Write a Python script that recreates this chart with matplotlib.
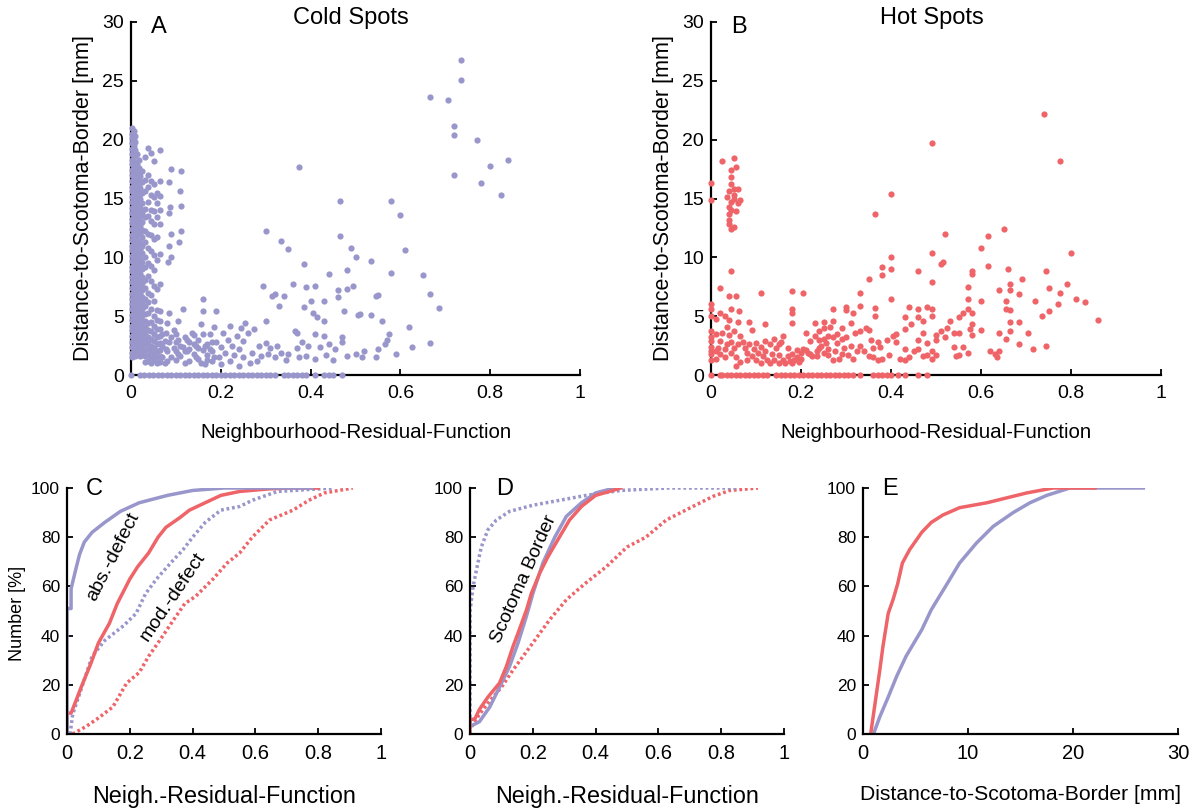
import numpy as np
import matplotlib
matplotlib.use("Agg")
import matplotlib.pyplot as plt

plt.rcParams['font.family'] = ['Liberation Sans', 'DejaVu Sans']

BLUE = '#9896cb'
RED = '#ee6468'

# ---------------- panel A: cold spots (x = NRF, y = distance in mm) ----------------
# dense strip next to x = 0, read column by column
cold_col_x = [0.003, 0.0065, 0.010, 0.0135, 0.017, 0.0205, 0.024, 0.031, 0.038, 0.045, 0.052,
              0.058, 0.065]
cold_col_y = [
    [1.5, 1.9, 2.4, 2.8, 3.3, 3.8, 4.2, 4.7, 5.1, 5.6, 6.0, 6.5, 6.9, 7.4, 7.9, 8.3, 8.8, 9.2, 9.7, 10.1,
     10.6, 11.0, 11.5, 11.9, 12.4, 12.9, 13.3, 13.8, 14.2, 14.7, 15.1, 15.6, 16.0, 16.5, 17.0, 17.4,
     17.9, 18.3, 18.8, 19.2, 19.7, 20.1, 20.5, 21.0],
    [1.7, 2.2, 2.6, 3.1, 3.5, 4.0, 4.5, 4.9, 5.4, 5.8, 6.3, 6.7, 7.2, 7.6, 8.1, 8.6, 9.0, 9.5, 9.9,
     10.4, 10.8, 11.3, 11.7, 12.2, 12.6, 13.1, 13.6, 14.0, 14.5, 14.9, 15.4, 15.8, 16.3, 16.8, 17.2,
     17.7, 18.1, 18.6, 19.0, 19.5, 20.0, 20.7],
    [1.6, 2.0, 2.5, 2.9, 3.4, 3.9, 4.3, 4.8, 5.2, 5.7, 6.1, 6.6, 7.1, 7.5, 8.0, 8.4, 8.9, 9.3, 9.8, 10.3,
     10.7, 11.2, 11.6, 12.1, 12.6, 13.0, 13.5, 13.9, 14.4, 14.9, 15.3, 15.8, 16.2, 16.7, 17.2, 17.6,
     18.1, 18.6, 19.1, 19.8, 20.3],
    [1.8, 2.3, 2.7, 3.2, 3.6, 4.1, 4.6, 5.0, 5.5, 5.9, 6.4, 6.9, 7.3, 7.8, 8.2, 8.7, 9.2, 9.6, 10.1,
     10.5, 11.0, 11.4, 11.9, 12.3, 12.8, 13.2, 13.7, 14.2, 14.6, 15.1, 15.5, 16.0, 16.4, 16.9, 17.4,
     17.9, 18.8],
    [1.7, 2.1, 2.6, 3.0, 3.5, 4.0, 4.4, 4.9, 5.3, 5.8, 6.3, 6.7, 7.2, 7.7, 8.1, 8.6, 9.1, 9.5, 10.0, 10.5,
     10.9, 11.4, 11.9, 12.4, 12.8, 13.3, 13.8, 14.3, 14.8, 15.2, 15.7, 16.2, 16.6, 17.1, 17.6, 18.3],
    [1.6, 2.0, 2.5, 3.0, 3.4, 3.9, 4.3, 4.8, 5.3, 5.8, 6.4, 6.9, 7.5, 8.0, 8.6, 9.3, 9.9, 10.7, 11.3,
     12.0, 12.7, 13.5, 14.2, 15.0, 15.9, 16.9],
    [1.8, 2.3, 2.8, 3.2, 3.7, 4.2, 4.7, 5.1, 5.6, 6.1, 6.6, 7.2, 7.8, 8.3, 9.0, 9.6, 10.4, 11.0, 11.7,
     12.3, 13.0, 13.8, 14.6, 15.5, 16.4, 17.3],
    [1.1, 1.6, 2.1, 2.6, 3.1, 3.6, 4.1, 4.6, 5.2, 5.9, 6.5, 7.4, 8.1, 9.2, 10.0, 11.3, 12.2, 13.4, 14.1,
     15.6, 16.6, 18.5],
    [1.2, 1.7, 2.2, 2.7, 3.2, 3.8, 4.4, 5.3, 6.2, 7.0, 8.4, 9.5, 10.8, 12.0, 13.5, 14.7, 16.0, 17.0, 19.3],
    [1.0, 1.5, 2.0, 2.5, 3.1, 3.7, 4.5, 5.6, 6.8, 8.0, 9.3, 10.5, 11.9, 13.1, 14.0, 15.3, 16.5, 18.9],
    [1.3, 1.8, 2.3, 2.9, 3.5, 4.2, 5.0, 6.3, 7.6, 8.9, 10.2, 11.6, 12.8, 13.9, 15.1, 16.2, 18.2],
    [1.0, 1.5, 2.0, 2.6, 3.2, 3.9, 4.7, 5.5, 7.3, 9.8, 11.7, 13.4, 14.6, 15.5],
    [1.1, 1.6, 2.1, 2.7, 3.3, 3.9, 4.6, 5.4, 7.7, 10.3, 12.8, 14.0, 15.2, 16.5, 19.1],
]

cold_pts = [
    (0.07, 1.5), (0.07, 2.5), (0.07, 3.5), (0.075, 1.0), (0.075, 2.9), (0.078, 2.2), (0.078, 3.6),
    (0.08, 1.2), (0.08, 2.0), (0.08, 4.4), (0.085, 2.8), (0.085, 5.3), (0.082, 9.6), (0.085, 11.0),
    (0.085, 13.8), (0.085, 16.4), (0.088, 17.5), (0.087, 14.3), (0.09, 12.0), (0.09, 10.0),
    (0.09, 1.5), (0.09, 3.2), (0.095, 2.3), (0.095, 3.8), (0.1, 1.3), (0.1, 2.0), (0.1, 2.8),
    (0.1, 3.5), (0.105, 1.8), (0.105, 3.0), (0.105, 4.6), (0.108, 11.3), (0.11, 15.6), (0.112, 17.3),
    (0.112, 14.4), (0.112, 12.2), (0.115, 5.6), (0.11, 1.6), (0.11, 2.5), (0.115, 2.4), (0.12, 3.2),
    (0.12, 1.0), (0.12, 2.0), (0.125, 2.0), (0.125, 3.0), (0.13, 1.2), (0.13, 2.2), (0.13, 2.8),
    (0.135, 3.6), (0.14, 1.8), (0.14, 2.6), (0.14, 3.4), (0.145, 1.5), (0.145, 2.5), (0.15, 1.4),
    (0.15, 2.3), (0.15, 3.0), (0.155, 1.0), (0.155, 4.3), (0.16, 6.5), (0.16, 5.4), (0.16, 2.1),
    (0.16, 3.5), (0.165, 0.9), (0.165, 2.5), (0.17, 1.3), (0.17, 1.7), (0.17, 2.6), (0.175, 2.2),
    (0.175, 3.5), (0.18, 1.2), (0.18, 2.0), (0.18, 2.8), (0.185, 1.5), (0.185, 4.1), (0.19, 5.4),
    (0.19, 2.8), (0.195, 1.5), (0.2, 0.9), (0.2, 2.4), (0.205, 3.6), (0.21, 1.9), (0.215, 3.0),
    (0.22, 1.2), (0.22, 4.2), (0.225, 2.5), (0.23, 1.7), (0.235, 3.3), (0.24, 0.8), (0.24, 2.2),
    (0.245, 4.0), (0.25, 1.5), (0.25, 2.9), (0.255, 4.4), (0.26, 3.6), (0.265, 1.0), (0.27, 1.9),
    (0.275, 3.9), (0.28, 1.2), (0.285, 2.5), (0.29, 1.6), (0.295, 7.6), (0.3, 12.2), (0.3, 4.6),
    (0.3, 2.7), (0.305, 1.8), (0.31, 2.3), (0.315, 6.7), (0.32, 6.9), (0.32, 1.5), (0.325, 2.5),
    (0.33, 5.9), (0.333, 11.4), (0.335, 1.9), (0.34, 6.7), (0.345, 1.3), (0.35, 10.7), (0.35, 1.8),
    (0.36, 7.7), (0.365, 3.7), (0.37, 3.6), (0.37, 2.3), (0.375, 17.7), (0.375, 1.5), (0.38, 2.8),
    (0.385, 5.8), (0.385, 9.4), (0.39, 7.5), (0.39, 1.6), (0.395, 2.5), (0.4, 6.3), (0.405, 5.3),
    (0.41, 7.6), (0.41, 1.4), (0.41, 3.5), (0.415, 4.9), (0.42, 2.4), (0.43, 6.3), (0.43, 4.6),
    (0.43, 3.3), (0.435, 1.7), (0.44, 8.6), (0.44, 2.6), (0.45, 1.3), (0.455, 2.2), (0.46, 7.2),
    (0.46, 6.6), (0.465, 14.8), (0.465, 11.8), (0.47, 3.2), (0.47, 2.8), (0.475, 5.4), (0.48, 7.3),
    (0.48, 8.9), (0.48, 1.6), (0.49, 10.8), (0.495, 7.6), (0.5, 1.8), (0.5, 10.0), (0.505, 5.1),
    (0.51, 5.2), (0.515, 1.5), (0.52, 2.0), (0.535, 9.7), (0.535, 5.1), (0.545, 6.7), (0.55, 6.8),
    (0.545, 1.5), (0.55, 2.2), (0.56, 4.6), (0.565, 2.6), (0.57, 3.0), (0.575, 3.5), (0.58, 8.7),
    (0.58, 14.8), (0.59, 1.8), (0.6, 13.6), (0.61, 10.6), (0.62, 4.1), (0.625, 2.4), (0.65, 8.5),
    (0.665, 23.6), (0.665, 6.9), (0.665, 2.7), (0.685, 5.7), (0.705, 23.4), (0.72, 21.2),
    (0.72, 20.4), (0.72, 17.0), (0.735, 26.8), (0.735, 25.1), (0.77, 20.0), (0.78, 16.3),
    (0.8, 17.8), (0.825, 15.3), (0.84, 18.3),
]

cold_zero_x = [0.0, 0.02, 0.03, 0.04, 0.05, 0.06, 0.07, 0.08, 0.09, 0.10, 0.11, 0.12, 0.13, 0.14,
               0.15, 0.16, 0.17, 0.18, 0.19, 0.20, 0.21, 0.22, 0.23, 0.24, 0.25, 0.26, 0.27, 0.28,
               0.29, 0.30, 0.31, 0.32, 0.34, 0.35, 0.36, 0.37, 0.38, 0.39, 0.41, 0.43, 0.44, 0.45, 0.47]

# ---------------- panel B: hot spots ----------------
hot_pts = [
    (0, 16.3), (0, 14.9), (0, 6.0), (0, 5.6), (0, 5.0), (0, 3.7), (0, 3.2), (0, 2.9), (0, 2.4),
    (0, 2.0), (0, 1.8), (0, 1.3), (0.02, 7.4), (0.025, 18.2),
    (0.05, 18.4), (0.055, 17.7), (0.045, 17.4), (0.045, 16.8), (0.045, 16.2), (0.05, 15.8),
    (0.06, 15.8), (0.04, 15.6), (0.05, 15.3), (0.065, 14.9), (0.045, 14.7), (0.04, 14.3),
    (0.045, 14.0), (0.055, 13.9), (0.04, 13.7), (0.06, 14.6), (0.04, 13.2), (0.04, 12.8),
    (0.05, 12.6), (0.045, 12.4), (0.052, 15.0), (0.035, 15.1),
    (0.045, 8.8), (0.04, 6.7), (0.055, 6.7), (0.063, 5.4), (0.045, 5.6), (0.02, 5.3), (0.01, 4.8),
    (0.03, 5.0), (0.04, 4.7), (0.11, 7.0), (0.18, 7.1), (0.18, 5.6), (0.18, 5.3), (0.18, 4.4),
    (0.205, 7.0), (0.12, 4.3), (0.085, 4.5), (0.09, 3.8),
    (0.33, 7.0), (0.35, 8.2), (0.365, 13.7), (0.38, 9.2), (0.38, 8.5), (0.4, 10.0), (0.4, 9.0),
    (0.4, 6.5), (0.4, 15.4), (0.46, 8.8), (0.49, 19.7), (0.49, 10.4), (0.49, 7.9), (0.51, 9.4),
    (0.515, 9.6), (0.52, 12.0), (0.6, 10.8), (0.615, 11.8), (0.615, 9.3), (0.65, 12.4), (0.66, 9.0),
    (0.74, 22.2), (0.775, 18.2), (0.8, 10.4), (0.58, 8.8), (0.58, 8.6), (0.6, 6.3), (0.64, 7.2),
    (0.655, 6.3), (0.655, 5.6), (0.665, 7.7), (0.665, 7.2), (0.665, 5.5), (0.665, 4.5), (0.665, 3.7),
    (0.685, 6.9), (0.685, 4.5), (0.69, 8.2), (0.72, 6.3), (0.735, 5.0), (0.745, 8.8), (0.75, 7.4),
    (0.75, 5.4), (0.77, 6.0), (0.775, 7.0), (0.79, 7.7), (0.81, 6.5), (0.83, 6.2), (0.86, 4.7),
    (0.745, 2.5), (0.715, 2.2), (0.705, 3.6), (0.685, 2.6), (0.655, 3.1), (0.64, 3.6), (0.64, 2.0),
    (0.63, 1.8), (0.635, 1.5), (0.62, 2.0), (0.6, 3.8), (0.57, 7.5), (0.57, 6.5), (0.57, 5.6),
    (0.58, 5.3), (0.58, 4.3), (0.58, 3.4), (0.575, 3.9), (0.57, 1.9), (0.56, 5.3), (0.55, 4.9),
    (0.55, 3.6), (0.54, 3.6), (0.53, 4.6), (0.525, 4.0), (0.52, 3.2), (0.51, 3.7), (0.5, 3.4),
    (0.5, 3.0), (0.5, 1.7), (0.54, 2.4), (0.545, 1.6), (0.55, 1.7), (0.56, 2.4), (0.49, 5.0),
    (0.49, 5.6), (0.48, 5.8), (0.47, 4.6), (0.46, 4.9), (0.46, 5.6), (0.47, 3.6), (0.46, 3.0),
    (0.44, 5.8), (0.43, 4.9), (0.43, 3.9), (0.445, 4.3), (0.48, 2.7), (0.49, 2.0), (0.48, 1.7),
    (0.49, 1.4), (0.46, 2.2), (0.45, 2.0), (0.44, 1.5), (0.42, 1.4), (0.43, 1.3), (0.41, 2.8),
    (0.405, 3.3), (0.41, 3.5), (0.43, 2.2), (0.47, 1.6),
    (0.33, 5.9), (0.33, 3.7), (0.33, 2.5), (0.34, 2.0), (0.345, 4.0), (0.35, 1.6), (0.355, 3.0),
    (0.36, 2.3), (0.365, 5.7), (0.365, 5.0), (0.37, 2.8), (0.37, 1.3), (0.375, 2.4), (0.38, 1.4),
    (0.39, 3.0), (0.395, 1.7), (0.36, 1.5), (0.35, 3.8),
    (0.21, 3.6), (0.21, 2.1), (0.22, 1.8), (0.22, 2.9), (0.23, 3.3), (0.23, 4.4), (0.235, 1.6),
    (0.24, 2.3), (0.24, 3.7), (0.245, 2.5), (0.25, 4.5), (0.25, 3.1), (0.25, 1.9), (0.255, 2.7),
    (0.26, 2.2), (0.265, 4.1), (0.27, 5.6), (0.27, 4.6), (0.27, 3.2), (0.27, 1.3), (0.28, 3.5),
    (0.28, 2.7), (0.285, 1.4), (0.29, 4.0), (0.29, 3.1), (0.295, 2.3), (0.3, 5.8), (0.3, 5.5),
    (0.3, 3.2), (0.305, 1.7), (0.31, 4.4), (0.31, 2.5), (0.315, 5.3), (0.315, 1.4), (0.32, 3.6),
    (0.325, 2.0), (0.26, 3.3), (0.25, 4.0), (0.24, 3.0), (0.235, 2.0), (0.225, 1.6), (0.215, 1.9),
    (0.26, 1.7), (0.275, 2.0), (0.29, 1.8),
    (0.07, 2.8), (0.075, 2.3), (0.08, 1.9), (0.08, 1.3), (0.085, 2.6), (0.09, 1.6), (0.095, 2.2),
    (0.1, 2.7), (0.1, 1.3), (0.105, 1.9), (0.11, 2.4), (0.11, 1.0), (0.115, 1.6), (0.12, 2.0),
    (0.125, 1.3), (0.13, 2.6), (0.13, 1.0), (0.135, 1.8), (0.14, 1.3), (0.145, 2.3), (0.15, 1.0),
    (0.15, 1.7), (0.155, 2.8), (0.16, 1.3), (0.165, 1.0), (0.17, 1.6), (0.175, 1.2), (0.18, 1.0),
    (0.18, 1.8), (0.185, 1.3), (0.19, 1.5), (0.195, 1.1), (0.2, 1.9), (0.2, 1.4), (0.205, 2.2),
    (0.14, 3.1), (0.16, 3.3), (0.12, 2.9), (0.15, 2.6), (0.17, 2.3), (0.19, 2.1),
    (0.01, 3.5), (0.015, 2.3), (0.02, 1.8), (0.02, 2.9), (0.025, 3.6), (0.03, 2.2), (0.03, 1.5),
    (0.035, 2.6), (0.035, 4.1), (0.04, 3.4), (0.045, 1.9), (0.045, 2.8), (0.05, 3.7), (0.05, 2.3),
    (0.055, 0.8), (0.055, 1.5), (0.06, 2.6), (0.06, 4.5), (0.065, 1.1), (0.065, 3.3), (0.01, 2.0),
    (0.012, 1.4),
]

hot_zero_x = [0.0, 0.02, 0.025, 0.035, 0.045, 0.055, 0.065, 0.075, 0.085, 0.095, 0.105, 0.115,
              0.125, 0.145, 0.155, 0.165, 0.175, 0.185, 0.195, 0.205, 0.215, 0.225, 0.235, 0.245,
              0.255, 0.265, 0.275, 0.285, 0.295, 0.305, 0.315, 0.33, 0.36, 0.37, 0.38, 0.39, 0.4,
              0.415, 0.43, 0.46, 0.48]

# ---------------- panel C: cumulative NRF, absolute vs moderate defect ----------------
c_abs_cold_x = [0, 0, 0.013, 0.013, 0.03, 0.04, 0.055, 0.08, 0.12, 0.17, 0.23, 0.32, 0.40, 0.50, 0.78]
c_abs_cold_y = [0, 51, 51, 59, 68, 73, 78, 82, 86, 90.5, 94, 97, 99, 100, 100]
c_abs_hot_x = [0, 0, 0.013, 0.03, 0.045, 0.077, 0.10, 0.135, 0.16, 0.20, 0.225, 0.26, 0.29,
               0.315, 0.36, 0.39, 0.45, 0.49, 0.55, 0.64, 0.71, 0.80]
c_abs_hot_y = [0, 8.5, 8.5, 14, 19, 29, 37, 45, 53, 63, 68, 73.6, 80, 84, 88, 91, 94.6, 97,
               98.6, 99.6, 100, 100]
c_mod_cold_x = [0.01, 0.018, 0.034, 0.055, 0.08, 0.12, 0.18, 0.22, 0.25, 0.285, 0.33, 0.37,
                0.40, 0.44, 0.49, 0.55, 0.59, 0.67, 0.85]
c_mod_cold_y = [0, 8, 14, 22, 31.6, 38, 44, 49, 57, 63, 69.5, 75, 80, 86, 91, 92.5, 95, 98.6, 100]
c_mod_hot_x = [0.018, 0.06, 0.10, 0.146, 0.19, 0.23, 0.26, 0.295, 0.34, 0.375, 0.41, 0.465,
               0.51, 0.55, 0.59, 0.645, 0.72, 0.77, 0.82, 0.91]
c_mod_hot_y = [0, 3, 6.5, 11, 20.7, 25, 31.6, 38, 46.5, 53, 56, 63, 69.5, 73.6, 80, 87, 91, 95,
               98, 100]

# ---------------- panel D: scotoma border vs rest ----------------
d_rest_cold_x = [0, 0, 0.01, 0.025, 0.036, 0.057, 0.084, 0.126, 0.20, 0.285, 0.37, 0.48, 0.63, 0.85]
d_rest_cold_y = [0, 50, 60, 69.5, 76, 83, 87, 90.5, 93, 95, 97, 99, 100, 100]
d_border_cold_x = [0, 0.03, 0.063, 0.094, 0.126, 0.153, 0.18, 0.20, 0.232, 0.27, 0.307, 0.355,
                   0.40, 0.46]
d_border_cold_y = [3, 5, 11, 19, 27.5, 37, 48, 57, 69.5, 80, 88.5, 94, 98, 100]
d_border_hot_x = [0, 0, 0.015, 0.03, 0.057, 0.094, 0.116, 0.137, 0.153, 0.18, 0.195, 0.222,
                  0.248, 0.28, 0.317, 0.355, 0.40, 0.455, 0.48]
d_border_hot_y = [0, 6, 6, 10, 15, 20.7, 27.5, 35.6, 41, 50.5, 57, 65.4, 72, 79, 87, 92.5, 97,
                  99, 100]
d_rest_hot_x = [0.005, 0.03, 0.06, 0.10, 0.137, 0.20, 0.254, 0.307, 0.365, 0.434, 0.50, 0.56,
                0.625, 0.71, 0.774, 0.827, 0.917]
d_rest_hot_y = [3, 8, 13, 19, 26, 37, 46.5, 54.6, 61, 68, 76, 80, 87, 92.5, 96.6, 99, 100]

# ---------------- panel E: cumulative distance to scotoma border ----------------
e_hot_x = [0.73, 1.2, 1.6, 1.9, 2.4, 2.86, 3.3, 3.75, 4.45, 5.6, 6.5, 7.6, 9.2, 11.8, 13.7, 15.6,
           18.1, 22.1]
e_hot_y = [0, 14, 26, 35.6, 49, 54.6, 61, 69.5, 75, 82, 86, 89, 92, 94, 96, 98, 100, 100]
e_cold_x = [1.0, 1.6, 2.4, 3.2, 4.1, 5.6, 6.5, 8.0, 9.2, 10.8, 12.4, 14.3, 15.9, 17.5, 19.7, 26.7]
e_cold_y = [0, 7, 15, 23.4, 31.6, 42.4, 50.5, 61, 69.5, 77.6, 84.4, 90, 94, 97, 100, 100]

# ------------------------------------------------------------------------------------
W, H = 1196, 811
fig = plt.figure(figsize=(W / 100, H / 100), dpi=100)


def px_axes(left, right, top, bottom):
    return fig.add_axes([left / W, 1 - bottom / H, (right - left) / W, (bottom - top) / H])


def style(ax, xfs, yfs):
    for s in ('top', 'right'):
        ax.spines[s].set_visible(False)
    for s in ('left', 'bottom'):
        ax.spines[s].set_linewidth(1.6)
    ax.tick_params(direction='in', length=4.5, width=1.3)
    ax.tick_params(axis='x', labelsize=xfs, pad=7)
    ax.tick_params(axis='y', labelsize=yfs, pad=5)


def xtick_fmt(v):
    return '%g' % v


axA = px_axes(131, 580, 22, 375)
axB = px_axes(711, 1161, 22, 375)
axC = px_axes(67, 381, 488, 734)
axD = px_axes(470, 784, 488, 734)
axE = px_axes(863, 1178, 488, 734)

# scatter panels
cold_x = [x for x, col in zip(cold_col_x, cold_col_y) for _ in col] + [p[0] for p in cold_pts]
cold_y = [y for col in cold_col_y for y in col] + [p[1] for p in cold_pts]

for ax, xs, ys, zx, col, title, letter in (
        (axA, cold_x, cold_y, cold_zero_x, BLUE, 'Cold Spots', 'A'),
        (axB, [p[0] for p in hot_pts], [p[1] for p in hot_pts], hot_zero_x, RED, 'Hot Spots', 'B')):
    ax.scatter(xs, ys, s=20, color=col, linewidths=0, clip_on=False, zorder=3)
    ax.scatter(zx, [0] * len(zx), s=20, color=col, linewidths=0, clip_on=False, zorder=3)
    ax.set_xlim(0, 1)
    ax.set_ylim(0, 30)
    ax.set_xticks([0, 0.2, 0.4, 0.6, 0.8, 1])
    ax.set_xticklabels([xtick_fmt(v) for v in ax.get_xticks()])
    ax.set_yticks([0, 5, 10, 15, 20, 25, 30])
    style(ax, 14, 14)
    ax.text(0.49, 1.012, title, transform=ax.transAxes, ha='center', va='center', fontsize=17)
    ax.text(0.062, 29.6, letter, ha='center', va='center', fontsize=17)
    ax.text(0.5, -58 / 353, 'Neighbourhood-Residual-Function', transform=ax.transAxes,
            ha='center', va='center', fontsize=14.8)
    ax.text(-47 / 449, 0.5, 'Distance-to-Scotoma-Border [mm]', transform=ax.transAxes,
            ha='center', va='center', rotation=90, fontsize=15.5)

dot = (0, (0.8, 0.8))
lw = 2.5

axC.plot(c_mod_hot_x, c_mod_hot_y, color=RED, lw=lw, ls=dot)
axC.plot(c_mod_cold_x, c_mod_cold_y, color=BLUE, lw=lw, ls=dot)
axC.plot(c_abs_hot_x, c_abs_hot_y, color=RED, lw=lw)
axC.plot(c_abs_cold_x, c_abs_cold_y, color=BLUE, lw=lw)
axC.text(0.146, 72, 'abs.-defect', rotation=63, ha='center', va='center', fontsize=14)
axC.text(0.337, 56, 'mod.-defect', rotation=56, ha='center', va='center', fontsize=14)

axD.plot(d_rest_hot_x, d_rest_hot_y, color=RED, lw=lw, ls=dot)
axD.plot(d_rest_cold_x, d_rest_cold_y, color=BLUE, lw=lw, ls=dot)
axD.plot(d_border_cold_x, d_border_cold_y, color=BLUE, lw=lw)
axD.plot(d_border_hot_x, d_border_hot_y, color=RED, lw=lw)
axD.text(0.172, 63, 'Scotoma Border', rotation=66, ha='center', va='center', fontsize=13.8)

axE.plot(e_cold_x, e_cold_y, color=BLUE, lw=lw)
axE.plot(e_hot_x, e_hot_y, color=RED, lw=lw)

for ax, letter, lx in ((axC, 'C', 0.087), (axD, 'D', 0.11), (axE, 'E', 0.087)):
    ax.set_ylim(0, 100)
    ax.set_yticks([0, 20, 40, 60, 80, 100])
    if ax is axE:
        ax.set_xlim(0, 30)
        ax.set_xticks([0, 10, 20, 30])
    else:
        ax.set_xlim(0, 1)
        ax.set_xticks([0, 0.2, 0.4, 0.6, 0.8, 1])
        ax.set_xticklabels([xtick_fmt(v) for v in ax.get_xticks()])
    style(ax, 14.5, 12.5)
    ax.text(lx, 0.995, letter, transform=ax.transAxes, ha='center', va='center', fontsize=17)

axC.text(-49 / 314, 0.49, 'Number [%]', transform=axC.transAxes, rotation=90,
         ha='center', va='center', fontsize=13)
for ax in (axC, axD):
    ax.text(0.5, -63 / 246, 'Neigh.-Residual-Function', transform=ax.transAxes,
            ha='center', va='center', fontsize=16.8)
axE.text(0.5, -61 / 246, 'Distance-to-Scotoma-Border [mm]', transform=axE.transAxes,
         ha='center', va='center', fontsize=15.2)

fig.savefig('out.png', dpi=100)
